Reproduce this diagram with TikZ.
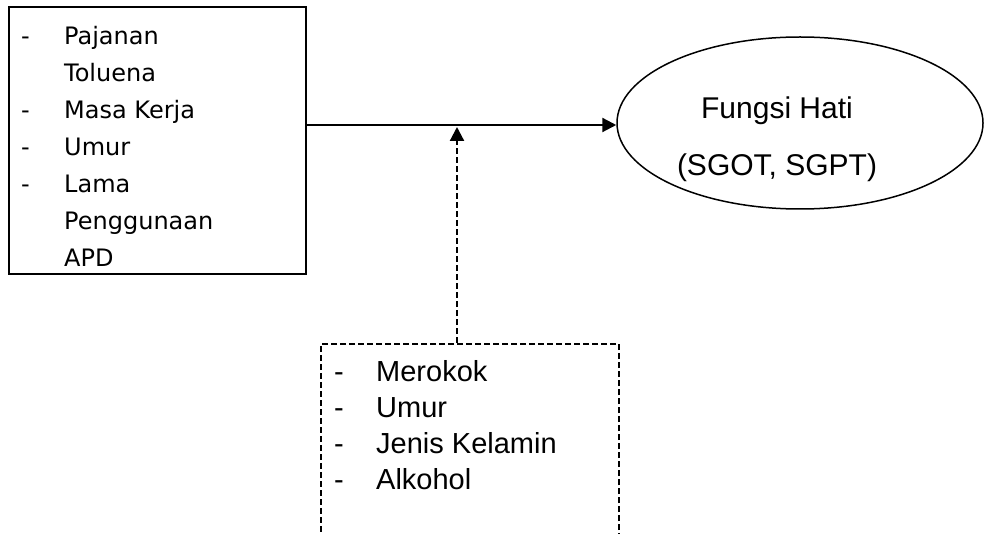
\documentclass[tikz,border=0pt]{standalone}
\usepackage{fontspec}
\setmainfont{Liberation Sans}
\newfontfamily\kotakfont{DejaVu Sans}
\usetikzlibrary{arrows.meta,positioning,shapes,calc}
\tikzset{
        >={Triangle[length=14pt,width=14pt]}, % filled triangle heads
        kotak/.style={draw, rectangle, line width=1.7pt, inner sep=0pt}, % solid frame
        kotakputus/.style={draw, rectangle, line width=2.2pt, dash pattern=on 6pt off 3pt, inner sep=0pt}, % dashed frame
        lonjong/.style={draw, ellipse, line width=1.5pt, inner sep=0pt},
        daftar/.style={anchor=north west, inner sep=0pt}, % list text inside a frame
        panah/.style={->, line width=2.2pt},
    }

\begin{document}
\begin{tikzpicture}[x=1pt,y=-1pt]
    \useasboundingbox (0,0) rectangle (984,534);

    % variabel bebas
    \node[kotak, minimum width=297pt, minimum height=267pt, anchor=north west] (paparan) at (8,6) {};
    \node[daftar, font=\kotakfont\fontsize{24}{37}\selectfont] (paparanisi) at (21,18)
        {\begin{tabular}{@{}p{43pt}@{}l@{}}
            - & Pajanan\\
              & Toluena\\
            - & Masa Kerja\\
            - & Umur\\
            - & Lama\\
              & Penggunaan\\
              & APD
        \end{tabular}};

    % variabel terikat
    \node[lonjong, minimum width=366pt, minimum height=172pt] (hati) at (800,123) {};
    \node[anchor=north, inner sep=0pt, font=\fontsize{30}{57}\selectfont] (hatiisi) at (777,78)
        {\begin{tabular}{@{}c@{}}
            Fungsi Hati\\
            (SGOT, SGPT)
        \end{tabular}};

    % variabel pengganggu
    \node[kotakputus, minimum width=298pt, minimum height=230pt, anchor=north west] (perancu) at (320,343) {};
    \node[daftar, font=\fontsize{29}{36}\selectfont] (perancuisi) at (334,356)
        {\begin{tabular}{@{}p{42pt}@{}l@{}}
            - & Merokok\\
            - & Umur\\
            - & Jenis Kelamin\\
            - & Alkohol
        \end{tabular}};

    \coordinate (temu) at (457,125);
    \draw[panah] (paparan.east |- temu) -- (hati.west |- temu);
    \draw[panah, dash pattern=on 6pt off 3pt, shorten >=2pt] (perancu.north -| temu) -- (temu);
\end{tikzpicture}
\end{document}
